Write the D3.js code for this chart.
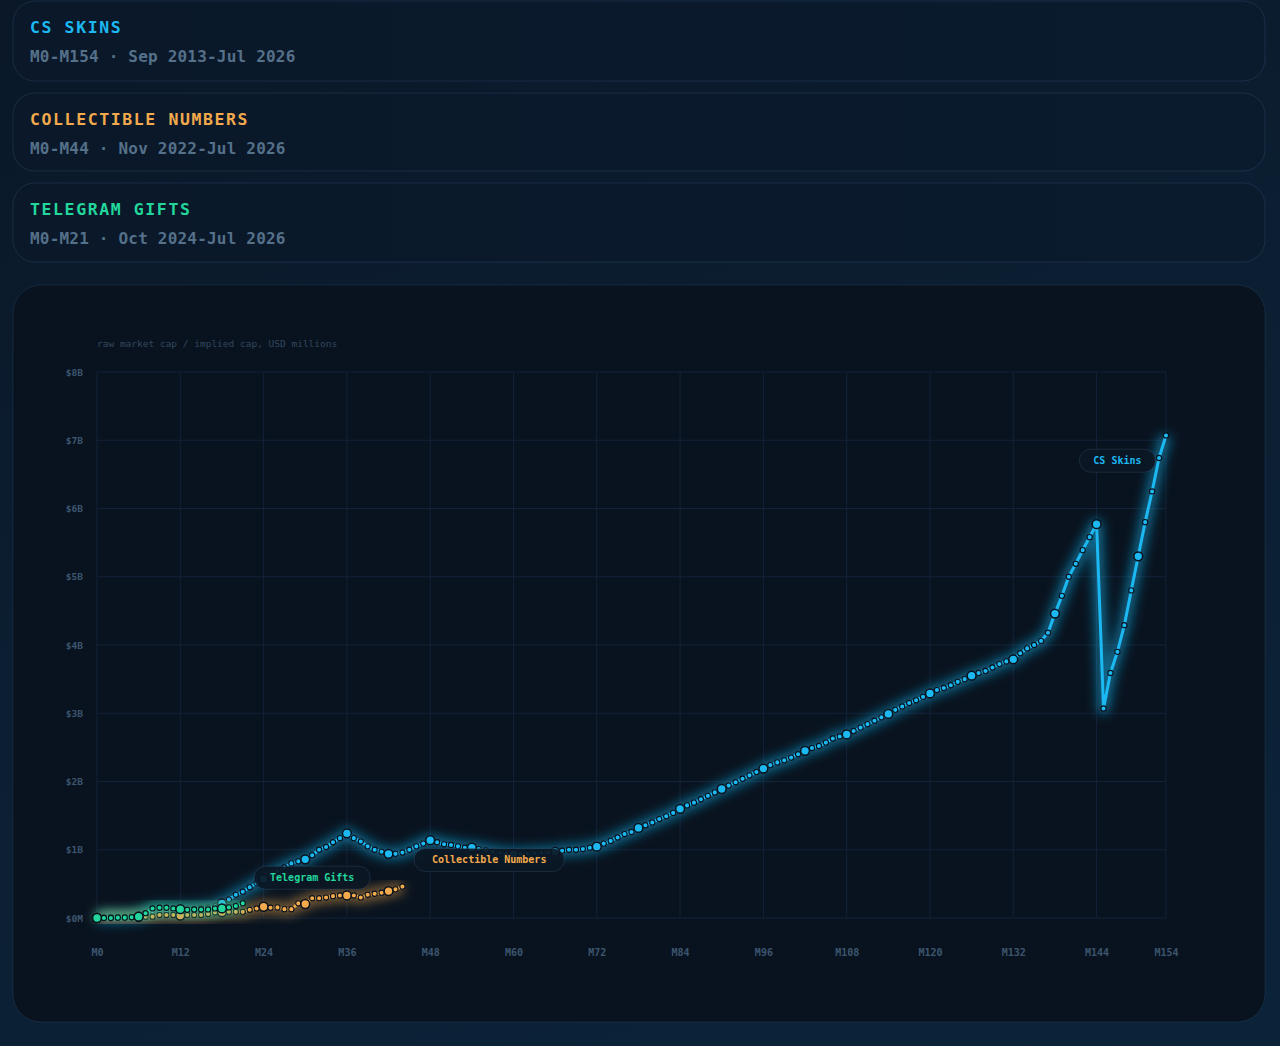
<!DOCTYPE html>
<html>
<head>
<meta charset="utf-8">
<title>Market cap comparison</title>
<script src="https://cdn.jsdelivr.net/npm/d3@7"></script>
<style>
	html, body {
		margin: 0;
		padding: 0;
		width: 1280px;
		height: 1046px;
		overflow: hidden;
		background: linear-gradient(160deg, #0a1828 0%, #0c1f33 55%, #0b2339 100%);
	}
	svg text {
		font-family: 'DejaVu Sans Mono', 'Liberation Mono', monospace;
	}
</style>
</head>
<body>
<div id="chart"></div>
<script>
// series names, colours and date ranges shown in the header cards
const seriesNames = ['CS Skins', 'Collectible Numbers', 'Telegram Gifts']
const seriesColors = ['#1cb8f2', '#f2aa4c', '#22d69c']
const seriesRanges = [
	'M0-M154 · Sep 2013-Jul 2026',
	'M0-M44 · Nov 2022-Jul 2026',
	'M0-M21 · Oct 2024-Jul 2026',
]

// monthly values, USD millions (index = month since launch)
const csSkins = [
	5, 8, 10, 12, 15, 20, 30, 60, 100, 110, 115, 115, // M0-M11
	120, 125, 130, 140, 150, 170, 215, 270, 340, 385, 450, 510, // M12-M23
	570, 630, 690, 740, 800, 830, 860, 920, 1000, 1040, 1110, 1170, // M24-M35
	1240, 1170, 1120, 1050, 1000, 970, 940, 940, 960, 1000, 1050, 1090, // M36-M47
	1140, 1110, 1080, 1070, 1050, 1030, 1030, 1010, 990, 970, 955, 945, // M48-M59
	940, 940, 945, 950, 955, 960, 970, 985, 1000, 1000, 1010, 1030, // M60-M71
	1045, 1090, 1130, 1180, 1230, 1260, 1320, 1360, 1400, 1450, 1490, 1540, // M72-M83
	1600, 1650, 1690, 1740, 1790, 1840, 1890, 1940, 1990, 2040, 2090, 2140, // M84-M95
	2190, 2240, 2280, 2310, 2350, 2400, 2450, 2490, 2520, 2570, 2630, 2660, // M96-M107
	2690, 2740, 2790, 2840, 2890, 2940, 2990, 3050, 3100, 3150, 3190, 3240, // M108-M119
	3290, 3340, 3370, 3410, 3460, 3500, 3550, 3590, 3620, 3670, 3720, 3760, // M120-M131
	3790, 3880, 3950, 4000, 4060, 4180, 4460, 4720, 5000, 5190, 5390, 5580, // M132-M143
	5770, 3070, 3590, 3900, 4290, 4800, 5300, 5800, 6250, 6740, 7070, // M144-M154
]
const collectibleNumbers = [
	5, 5, 8, 8, 10, 12, 15, 18, 20, 45, 45, 45, // M0-M11
	35, 45, 45, 45, 60, 80, 85, 90, 90, 90, 120, 140, // M12-M23
	165, 150, 155, 130, 130, 215, 205, 290, 290, 300, 320, 330, // M24-M35
	330, 330, 300, 340, 355, 370, 395, 420, 460, // M36-M44
]
const telegramGifts = [
	0, 0, 0, 5, 5, 10, 20, 70, 140, 150, 150, 140, // M0-M11
	130, 120, 125, 125, 125, 140, 140, 155, 175, 215, // M12-M21
]

// axis ticks
const xTicks = [0, 12, 24, 36, 48, 60, 72, 84, 96, 108, 120, 132, 144, 154]
const yTicks = [0, 1000, 2000, 3000, 4000, 5000, 6000, 7000, 8000]
const axisTitle = 'raw market cap / implied cap, USD millions'

// where each series label pill sits: [month, value in millions, side padding]
const labelAnchors = [
	[147, 6700, 28],
	[56.5, 850, 36],
	[31, 590, 32],
]

const width = 1280
const height = 1046
const plot = { left: 97, right: 1166, top: 372, bottom: 918 }

const svg = d3
	.select('#chart')
	.append('svg')
	.attr('width', width)
	.attr('height', height)

const defs = svg.append('defs')

const glow = defs
	.append('filter')
	.attr('id', 'glow')
	.attr('x', '-20%')
	.attr('y', '-20%')
	.attr('width', '140%')
	.attr('height', '140%')
glow.append('feGaussianBlur').attr('stdDeviation', 5.5)

const cardGrad = defs
	.append('linearGradient')
	.attr('id', 'card-grad')
	.attr('x1', 0)
	.attr('x2', 1)
cardGrad.append('stop').attr('offset', '0%').attr('stop-color', '#0a1829')
cardGrad.append('stop').attr('offset', '100%').attr('stop-color', '#0a1b2e')

// header cards
const cards = [
	{ y: 1, h: 80 },
	{ y: 93, h: 78 },
	{ y: 183, h: 79 },
]
cards.forEach((c, i) => {
	const g = svg.append('g').attr('transform', 'translate(13,' + c.y + ')')
	g.append('rect')
		.attr('width', 1252)
		.attr('height', c.h)
		.attr('rx', 22)
		.attr('fill', 'url(#card-grad)')
		.attr('stroke', 'rgba(90,140,190,0.18)')
	g.append('text')
		.attr('x', 17)
		.attr('y', 32)
		.attr('fill', seriesColors[i])
		.attr('font-size', 16.5)
		.attr('font-weight', 'bold')
		.attr('letter-spacing', 1.6)
		.text(seriesNames[i].toUpperCase())
	g.append('text')
		.attr('x', 17)
		.attr('y', 61)
		.attr('fill', '#557089')
		.attr('font-size', 16)
		.attr('font-weight', 'bold')
		.attr('letter-spacing', 0.2)
		.text(seriesRanges[i])
})

// chart card
svg.append('rect')
	.attr('x', 13)
	.attr('y', 285)
	.attr('width', 1252)
	.attr('height', 737)
	.attr('rx', 28)
	.attr('fill', '#09131f')
	.attr('stroke', 'rgba(90,140,190,0.14)')

const x = d3.scaleLinear().domain([0, 154]).range([plot.left, plot.right])
const y = d3.scaleLinear().domain([0, 8000]).range([plot.bottom, plot.top])

const tickFormat = (d) => (d === 0 ? '$0M' : '$' + d / 1000 + 'B')

// grid
const grid = svg.append('g')
grid.selectAll('.gx')
	.data(xTicks)
	.enter()
	.append('line')
	.attr('x1', (d) => x(d))
	.attr('x2', (d) => x(d))
	.attr('y1', plot.top)
	.attr('y2', plot.bottom)
	.attr('stroke', '#132238')
grid.selectAll('.gy')
	.data(yTicks)
	.enter()
	.append('line')
	.attr('x1', plot.left)
	.attr('x2', plot.right)
	.attr('y1', (d) => y(d))
	.attr('y2', (d) => y(d))
	.attr('stroke', '#132238')

// axes
const xAxis = svg
	.append('g')
	.attr('transform', 'translate(0,' + (plot.bottom + 31) + ')')
	.call(d3.axisBottom(x).tickValues(xTicks).tickSize(0).tickFormat((d) => 'M' + d))
const yAxis = svg
	.append('g')
	.attr('transform', 'translate(' + (plot.left - 11) + ',0)')
	.call(d3.axisLeft(y).tickValues(yTicks).tickSize(0).tickFormat(tickFormat))
;[xAxis, yAxis].forEach((a) => {
	a.select('.domain').remove()
	a.selectAll('text')
		.attr('fill', '#3d566f')
		.attr('font-weight', 'bold')
		.attr('font-family', "'DejaVu Sans Mono', monospace")
})
xAxis.selectAll('text').attr('font-size', 10).attr('dy', '0.35em')
yAxis.selectAll('text').attr('font-size', 9.5)

svg.append('text')
	.attr('x', plot.left)
	.attr('y', 347)
	.attr('fill', '#32475d')
	.attr('font-size', 9.5)
	.text(axisTitle)

// series
const allSeries = [csSkins, collectibleNumbers, telegramGifts]
const line = d3
	.line()
	.x((d, i) => x(i))
	.y((d) => y(d))

allSeries.forEach((values, s) => {
	const color = seriesColors[s]
	const g = svg.append('g')

	g.append('path')
		.datum(values)
		.attr('d', line)
		.attr('fill', 'none')
		.attr('stroke', color)
		.attr('stroke-width', 12)
		.attr('stroke-opacity', 0.5)
		.attr('stroke-linejoin', 'round')
		.attr('filter', 'url(#glow)')

	g.append('path')
		.datum(values)
		.attr('d', line)
		.attr('fill', 'none')
		.attr('stroke', color)
		.attr('stroke-width', 3)
		.attr('stroke-linejoin', 'round')

	g.selectAll('circle')
		.data(values)
		.enter()
		.append('circle')
		.attr('cx', (d, i) => x(i))
		.attr('cy', (d) => y(d))
		.attr('r', (d, i) => (i % 6 === 0 ? 4.4 : 2.6))
		.attr('fill', color)
		.attr('stroke', '#08111c')
		.attr('stroke-width', (d, i) => (i % 6 === 0 ? 1.5 : 1.1))
})

// label pills
labelAnchors.forEach((a, s) => {
	const g = svg
		.append('g')
		.attr('transform', 'translate(' + x(a[0]) + ',' + y(a[1]) + ')')
	const rect = g.append('rect')
	const label = g
		.append('text')
		.attr('text-anchor', 'middle')
		.attr('dy', '0.35em')
		.attr('fill', seriesColors[s])
		.attr('font-size', 10)
		.attr('font-weight', 'bold')
		.text(seriesNames[s])
	const w = label.node().getComputedTextLength() + a[2]
	rect.attr('x', -w / 2)
		.attr('y', -11.5)
		.attr('width', w)
		.attr('height', 23)
		.attr('rx', 11.5)
		.attr('fill', '#0b1724')
		.attr('fill-opacity', 0.92)
		.attr('stroke', 'rgba(110,160,210,0.16)')
})
</script>
</body>
</html>
